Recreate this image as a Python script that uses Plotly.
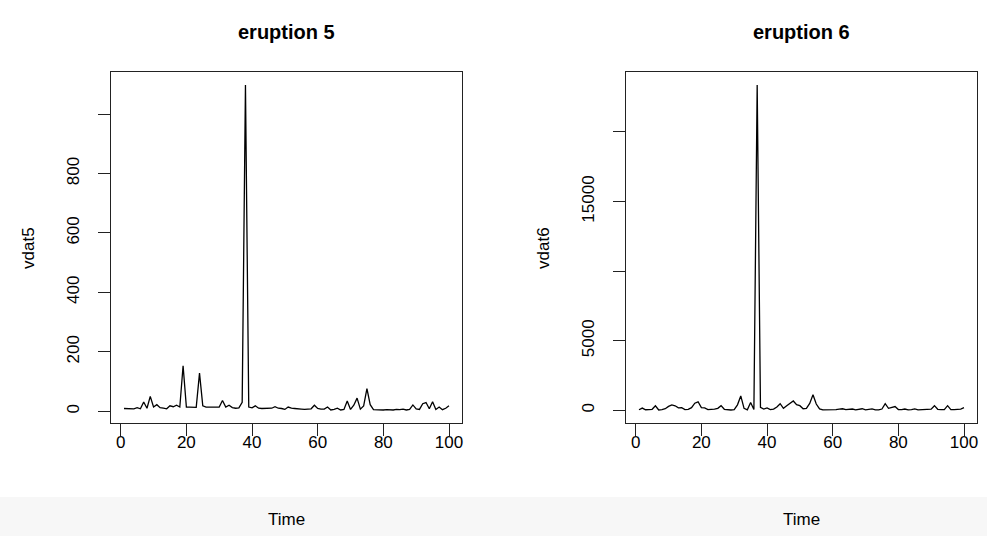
import plotly.graph_objects as go

W, H = 987, 536

time = list(range(1, 101))

vdat5 = [9, 8, 7, 8, 12, 8, 31, 10, 50, 14,
         22, 12, 10, 8, 18, 15, 20, 14, 153, 14,
         14, 14, 13, 128, 18, 14, 14, 14, 13, 14,
         36, 14, 20, 12, 10, 11, 30, 1098, 14, 11,
         18, 10, 9, 9, 9, 10, 15, 10, 9, 6,
         14, 10, 9, 7, 7, 6, 6, 8, 20, 9,
         7, 7, 14, 4, 6, 10, 4, 6, 34, 6,
         20, 44, 7, 18, 76, 22, 5, 4, 4, 4,
         5, 4, 4, 6, 5, 7, 4, 6, 21, 8,
         6, 25, 29, 8, 32, 6, 14, 5, 10, 18]

vdat6 = [50, 170, 50, 60, 80, 330, 30, 60, 120, 290,
         400, 330, 180, 200, 60, 80, 200, 520, 620, 200,
         180, 60, 60, 90, 150, 340, 80, 40, 30, 50,
         400, 1040, 150, 40, 570, 60, 23370, 220, 100, 180,
         60, 90, 250, 480, 150, 330, 540, 680, 410, 340,
         120, 140, 500, 1120, 460, 110, 40, 30, 30, 40,
         50, 90, 120, 60, 60, 100, 40, 60, 120, 40,
         60, 110, 40, 40, 100, 480, 150, 230, 280, 60,
         50, 100, 40, 60, 110, 40, 60, 60, 100, 90,
         340, 80, 60, 60, 340, 60, 60, 80, 100, 200]

titles = ["eruption 5", "eruption 6"]
ylabels = ["vdat5", "vdat6"]
xlabel = "Time"
xtick_vals = [0, 20, 40, 60, 80, 100]
xtick_text = ["0", "20", "40", "60", "80", "100"]
y5_tick_vals = [0, 200, 400, 600, 800, 1000]
y5_tick_text = ["0", "200", "400", "600", "800", ""]
y6_tick_vals = [0, 5000, 10000, 15000, 20000]
y6_tick_text = ["0", "5000", "", "15000", ""]


def rrange(v):
    lo, hi = min(v), max(v)
    d = (hi - lo) * 0.04
    return [lo - d, hi + d]


FONT = "Liberation Sans, Arial, Helvetica, sans-serif"

# plot box positions in pixels
boxes = [(111, 462), (626, 977)]
top, bottom = 72, 423

fig = go.Figure()
fig.add_trace(go.Scatter(x=time, y=vdat5, mode="lines", xaxis="x", yaxis="y",
                         line=dict(color="black", width=1.3), showlegend=False,
                         hoverinfo="x+y"))
fig.add_trace(go.Scatter(x=time, y=vdat6, mode="lines", xaxis="x2", yaxis="y2",
                         line=dict(color="black", width=1.3), showlegend=False,
                         hoverinfo="x+y"))

ydom = [1 - bottom / H, 1 - top / H]

axcommon = dict(showline=True, mirror=True, linecolor="#222", linewidth=1.2,
                ticks="outside", ticklen=12, tickwidth=1.2, tickcolor="#222",
                showgrid=False, zeroline=False,
                tickfont=dict(family=FONT, size=17, color="black"))

xr = rrange(time)
fig.update_layout(
    xaxis=dict(domain=[boxes[0][0] / W, boxes[0][1] / W], range=xr, anchor="y",
               tickvals=xtick_vals, ticktext=xtick_text, ticklabelstandoff=-9, **axcommon),
    yaxis=dict(domain=ydom, range=rrange(vdat5), anchor="x",
               tickvals=y5_tick_vals, ticktext=y5_tick_text, tickangle=-90,
               ticklabelstandoff=12, **axcommon),
    xaxis2=dict(domain=[boxes[1][0] / W, boxes[1][1] / W], range=xr, anchor="y2",
                tickvals=xtick_vals, ticktext=xtick_text, ticklabelstandoff=-9, **axcommon),
    yaxis2=dict(domain=ydom, range=rrange(vdat6), anchor="x2",
                tickvals=y6_tick_vals, ticktext=y6_tick_text, tickangle=-90,
                ticklabelstandoff=12, **axcommon),
)

annotations = []
for i, (x0, x1) in enumerate(boxes):
    cx = (x0 + x1) / 2
    annotations.append(dict(text="<b>%s</b>" % titles[i], x=cx / W, y=1 - 32 / H,
                            xref="paper", yref="paper", showarrow=False,
                            xanchor="center", yanchor="middle",
                            font=dict(family=FONT, size=20, color="black")))
    annotations.append(dict(text=xlabel, x=cx / W, y=1 - 519 / H,
                            xref="paper", yref="paper", showarrow=False,
                            xanchor="center", yanchor="middle",
                            font=dict(family=FONT, size=17, color="black")))
    annotations.append(dict(text=ylabels[i], x=(x0 - 83) / W, y=1 - 248 / H,
                            xref="paper", yref="paper", showarrow=False, textangle=-90,
                            xanchor="center", yanchor="middle",
                            font=dict(family=FONT, size=17, color="black")))

shapes = [dict(type="rect", xref="paper", yref="paper", x0=0, x1=1,
               y0=0, y1=1 - 497 / H, fillcolor="#f7f7f7", line=dict(width=0),
               layer="below")]

fig.update_layout(
    width=W, height=H, margin=dict(l=0, r=0, t=0, b=0),
    paper_bgcolor="white", plot_bgcolor="white",
    annotations=annotations, shapes=shapes, showlegend=False,
)

fig.write_html("out.html", config={"displayModeBar": False},
               post_script="document.body.style.margin='0px';")
